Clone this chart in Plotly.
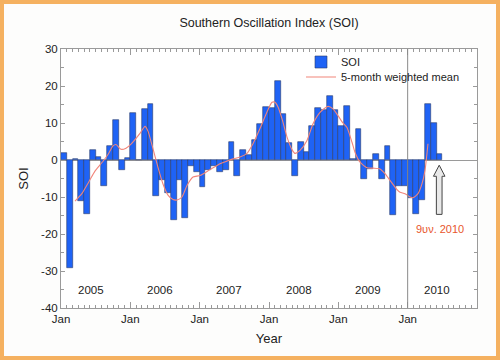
import plotly.graph_objects as go

# ---------------- data ----------------
months = [f"{y}-{m:02d}" for y in range(2005, 2011) for m in range(1, 13)][:66]
soi = [1.8, -29.1, 0.2, -11.2, -14.5, 2.6, 0.9, -6.9, 3.9, 10.9, -2.7, 0.6,
       12.7, 0.1, 13.8, 15.2, -9.8, -5.5, -8.9, -16.2, -5.3, -15.6, -1.7, -3.2,
       -7.4, -2.8, -1.6, -3.2, -2.8, 4.9, -4.4, 2.6, 1.4, 5.4, 9.7, 14.4,
       14.1, 21.4, 12.3, 4.5, -4.4, 5.0, 2.2, 9.1, 14.0, 13.5, 17.2, 13.6,
       9.3, 14.7, 0.2, 8.5, -5.2, -2.4, 1.5, -5.1, 3.8, -14.9, -7.1, -7.1,
       -10.2, -14.7, -10.7, 15.2, 10.0, 1.7]

# 5-month weighted mean (decimal year, value)
mean_t = [2005.202, 2005.303, 2005.404, 2005.490, 2005.563, 2005.620, 2005.678,
          2005.750, 2005.793, 2005.865, 2005.938, 2006.010, 2006.139, 2006.212,
          2006.255, 2006.313, 2006.356, 2006.399, 2006.471, 2006.543, 2006.615,
          2006.673, 2006.745, 2006.817, 2006.904, 2007.005, 2007.149, 2007.293,
          2007.394, 2007.481, 2007.582, 2007.683, 2007.769, 2007.870, 2007.971,
          2008.043, 2008.087, 2008.130, 2008.188, 2008.260, 2008.332, 2008.375,
          2008.447, 2008.548, 2008.635, 2008.736, 2008.851, 2008.923, 2008.995,
          2009.067, 2009.125, 2009.197, 2009.240, 2009.313, 2009.414, 2009.500,
          2009.601, 2009.673, 2009.745, 2009.846, 2009.890, 2009.962, 2010.034,
          2010.077, 2010.149, 2010.207, 2010.250, 2010.293]
mean_v = [-11.1, -9.0, -5.8, -3.0, -1.3, 0.0, 1.5,
          3.8, 4.2, 2.9, 3.2, 4.3, 7.2, 9.1,
          7.8, 4.0, 1.0, -2.0, -6.5, -9.5, -10.7,
          -10.8, -10.0, -6.9, -4.6, -4.2, -2.6, -1.0,
          -0.3, 0.3, 0.8, 1.8, 4.4, 8.5, 13.0,
          15.6, 15.6, 14.3, 11.1, 6.2, 2.8, 1.8,
          2.6, 5.3, 9.8, 12.9, 14.5, 13.8, 12.0,
          10.0, 8.8, 4.8, 2.1, -0.6, -2.1, -2.2,
          -2.4, -3.7, -5.5, -8.0, -8.7, -9.1, -10.0,
          -10.2, -9.1, -6.4, -2.8, 4.4]

years = [2005, 2006, 2007, 2008, 2009, 2010]
year_labels = [str(y) for y in years]
x_ticktext = ["Jan"] * len(years)
y_tickvals = [-40, -30, -20, -10, 0, 10, 20, 30]
y_ticktext = ["-40", "-30", "-20", "-10", "0", "10", "20", "30"]
marker_year = 2010          # vertical marker line (Jan 2010)
note_text = "9υν. 2010"

# ---------------- derived positions ----------------
def month_pos(s):
    y, m = s.split("-")
    return int(y) + (int(m) - 1) / 12 + 1 / 24

bar_x = [month_pos(s) for s in months]

font_family = "Liberation Sans, Arial, sans-serif"

fig = go.Figure()
fig.add_trace(go.Bar(
    x=bar_x, y=soi, width=1 / 12, name="SOI", legend="legend",
    marker=dict(color="#1f63f5", line=dict(color="#2d3c6a", width=0.6)),
))
fig.add_trace(go.Scatter(
    x=mean_t, y=mean_v, mode="lines", name="5-month weighted mean", legend="legend2",
    line=dict(color="#f2857a", width=1.1, shape="spline", smoothing=0.6),
))

# figure geometry
W, H = 500, 360
L, R, T, B = 61, 23, 49, 52
pw, ph = W - L - R, H - T - B

def px2paper_x(px):
    return (px - L) / pw

def px2paper_y(py):
    return (H - B - py) / ph

shapes = [
    dict(type="rect", xref="paper", yref="paper",
         x0=px2paper_x(2), x1=px2paper_x(W - 2),
         y0=px2paper_y(H - 2), y1=px2paper_y(2),
         line=dict(color="#f5b160", width=4), fillcolor="rgba(0,0,0,0)",
         layer="below"),
    dict(type="line", xref="x", yref="y", x0=marker_year, x1=marker_year,
         y0=-40, y1=30, line=dict(color="#8a8a8a", width=1), layer="above"),
]

ax_c = 2010.455
sw, hw = 0.041, 0.083
y_bot, y_head, y_tip = -14.7, -4.4, -1.4
path = (f"M{ax_c - sw},{y_bot} L{ax_c - sw},{y_head} L{ax_c - hw},{y_head} "
        f"L{ax_c},{y_tip} L{ax_c + hw},{y_head} L{ax_c + sw},{y_head} "
        f"L{ax_c + sw},{y_bot} Z")
shapes.append(dict(type="path", xref="x", yref="y", path=path,
                   fillcolor="#e9e9e9", line=dict(color="#444444", width=1)))

annotations = [
    dict(x=y + 0.43, y=-35, xref="x", yref="y", text=t, showarrow=False,
         font=dict(size=11.5, color="#222222", family=font_family))
    for y, t in zip(years, year_labels)
]
annotations.append(dict(x=2010.467, y=-18.6, xref="x", yref="y", text=note_text,
                        showarrow=False,
                        font=dict(size=11, color="#e8562c", family=font_family)))

axis_common = dict(showline=True, linecolor="#9a9a9a", linewidth=1, mirror="ticks",
                   showgrid=False, ticks="inside", tickcolor="#9a9a9a", automargin=False,
                   tickfont=dict(size=11.5, color="#222222", family=font_family))

legend_common = dict(xanchor="left", yanchor="middle", bgcolor="rgba(0,0,0,0)",
                     itemwidth=30, font=dict(size=11, color="#222222", family=font_family))

fig.update_layout(
    width=W, height=H,
    margin=dict(l=L, r=R, t=T, b=B, autoexpand=False),
    paper_bgcolor="#fdfdfc", plot_bgcolor="#ffffff",
    title=dict(text="Southern Oscillation Index (SOI)", x=(L + pw / 2) / W,
               xanchor="center", y=1 - 23 / H, yanchor="middle",
               font=dict(size=12.5, color="#222222", family=font_family)),
    xaxis=dict(range=[2005, 2011], tickvals=years, ticktext=x_ticktext, ticklen=6,
               minor=dict(dtick=1 / 12, tick0=2005, ticks="inside", ticklen=3,
                          tickcolor="#9a9a9a"),
               title=dict(text="Year", standoff=10,
                          font=dict(size=13, color="#222222", family=font_family)),
               zeroline=False, **axis_common),
    yaxis=dict(range=[-40, 30], tickvals=y_tickvals, ticktext=y_ticktext, ticklen=4,
               minor=dict(dtick=5, ticks="inside", ticklen=3, tickcolor="#9a9a9a"),
               title=dict(text="SOI", standoff=9,
                          font=dict(size=13, color="#222222", family=font_family)),
               zeroline=True, zerolinecolor="#9a9a9a", zerolinewidth=1,
               **axis_common),
    showlegend=True,
    legend=dict(x=px2paper_x(301), y=px2paper_y(62), **legend_common),
    legend2=dict(x=px2paper_x(301), y=px2paper_y(77), **legend_common),
    shapes=shapes,
    annotations=annotations,
    bargap=0,
)

fig.write_html("out.html", config={"displayModeBar": False},
               post_script="document.body.style.margin='0';")
